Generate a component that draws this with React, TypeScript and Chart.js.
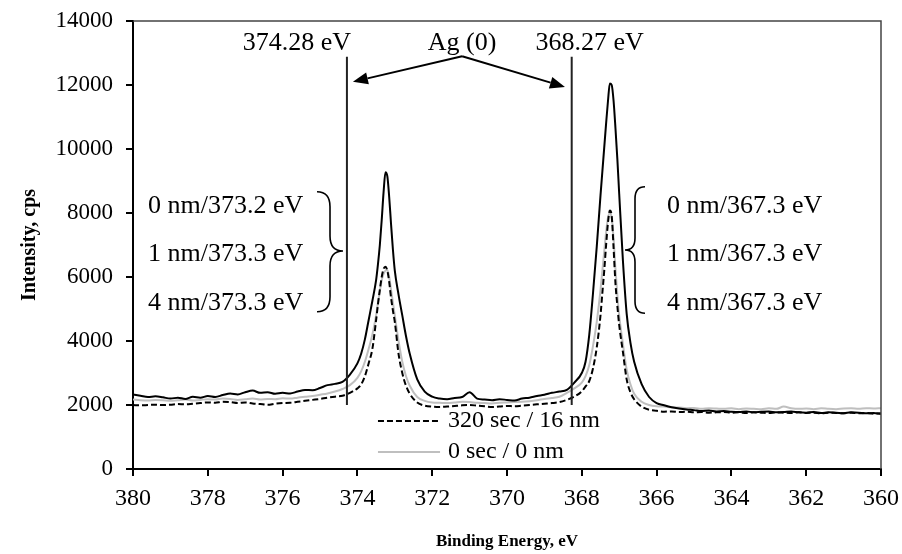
import React, { useEffect, useRef } from "react";
import { Chart, registerables } from "chart.js";
Chart.register(...registerables);

// Binding energy grid (eV)
const energies = [
  380.0, 379.8, 379.6, 379.4, 379.2, 379.0, 378.8, 378.6, 378.4, 378.2, 378.0, 377.8, 377.6, 377.4, 377.2, 377.0, 376.8, 376.6, 376.4, 376.2, 376.0, 375.8, 375.6, 375.4, 375.2, 375.0, 374.8, 374.6,
  374.4, 374.2, 374.0, 373.9, 373.8, 373.7, 373.6, 373.5, 373.45, 373.4, 373.35, 373.3, 373.25, 373.2, 373.15, 373.1, 373.05, 373.0, 372.9, 372.8, 372.7, 372.6, 372.4, 372.2, 372.0,
  371.8, 371.6, 371.4, 371.2, 371.0, 370.8, 370.6, 370.4, 370.2, 370.0, 369.8, 369.6, 369.4, 369.2, 369.0, 368.8, 368.6,
  368.4, 368.2, 368.0, 367.9, 367.8, 367.7, 367.6, 367.5, 367.45, 367.4, 367.35, 367.3, 367.25, 367.2, 367.15, 367.1, 367.05, 367.0, 366.9, 366.8, 366.7, 366.6, 366.4, 366.2, 366.0,
  365.8, 365.6, 365.4, 365.2, 365.0, 364.8, 364.6, 364.4, 364.2, 364.0, 363.8, 363.6, 363.4, 363.2, 363.0, 362.8, 362.6, 362.4, 362.2, 362.0, 361.8, 361.6, 361.4, 361.2, 361.0, 360.8, 360.6, 360.4, 360.2, 360.0,
];

// Solid black spectrum (cps)
const solidSeries = [
  2330, 2290, 2250, 2270, 2240, 2200, 2230, 2190, 2260, 2230, 2280, 2250, 2310, 2360, 2330, 2400, 2450, 2380, 2400, 2350, 2380, 2360, 2420, 2470, 2460, 2530, 2620, 2660,
  2720, 2950, 3300, 3600, 4050, 4650, 5250, 5900, 6400, 7000, 7780, 8650, 9270, 9150, 8500, 7650, 6850, 6200, 5450, 4800, 4150, 3600, 2800, 2420, 2260,
  2200, 2180, 2220, 2250, 2400, 2200, 2170, 2150, 2180, 2160, 2140, 2200, 2230, 2280, 2320, 2380, 2420,
  2470, 2700, 3000, 3350, 4200, 5500, 6950, 8550, 9300, 10050, 10800, 11500, 12050, 12000, 11500, 10650, 9700, 8600, 6500, 4850, 3950, 3350, 2650, 2250, 2060,
  1990, 1930, 1890, 1860, 1840, 1810, 1830, 1800, 1810, 1790, 1780, 1800, 1770, 1790, 1800, 1770, 1780, 1800, 1770, 1760, 1780, 1750, 1770, 1760, 1740, 1770, 1760, 1740, 1750, 1720,
];

// "320 sec / 16 nm" dashed spectrum (cps)
const dashedSeries = [
  2000, 1990, 2000, 2010, 2000, 2010, 2030, 2020, 2040, 2060, 2080, 2070, 2100, 2090, 2060, 2080, 2050, 2030, 2010, 2040, 2060, 2070, 2100, 2130, 2160, 2190, 2230, 2260,
  2290, 2380, 2520, 2640, 2900, 3300, 3750, 4650, 5150, 5600, 6000, 6250, 6320, 6200, 5850, 5350, 4950, 4600, 3600, 3000, 2600, 2350, 2080, 1980, 1950,
  1940, 1950, 1970, 1990, 2000, 1980, 1960, 1940, 1950, 1970, 1960, 1980, 2000, 2020, 2040, 2060, 2090,
  2160, 2260, 2430, 2580, 2750, 3150, 3800, 4800, 5500, 6200, 7000, 7700, 8080, 7900, 6900, 5800, 5100, 4500, 3650, 2800, 2400, 2180, 1950, 1850, 1820,
  1790, 1800, 1780, 1790, 1770, 1780, 1760, 1770, 1780, 1760, 1770, 1750, 1770, 1760, 1750, 1770, 1760, 1750, 1770, 1750, 1760, 1740, 1760, 1750, 1740, 1760, 1740, 1750, 1730, 1740,
];

// "0 sec / 0 nm" grey spectrum (cps)
const greySeries = [
  2170, 2150, 2140, 2160, 2150, 2130, 2150, 2170, 2140, 2160, 2180, 2170, 2200, 2190, 2160, 2180, 2200, 2170, 2190, 2180, 2210, 2200, 2230, 2260, 2280, 2320, 2360, 2420,
  2500, 2620, 2850, 3050, 3350, 3750, 4200, 4800, 5200, 5550, 5900, 6100, 6200, 6220, 6000, 5600, 5200, 4800, 4000, 3350, 2900, 2600, 2250, 2130, 2080,
  2070, 2060, 2080, 2100, 2090, 2070, 2060, 2050, 2070, 2080, 2090, 2100, 2120, 2150, 2190, 2220, 2260,
  2380, 2520, 2700, 2900, 3250, 3850, 4600, 5600, 6200, 6800, 7400, 7850, 8000, 7850, 7200, 6250, 5450, 4800, 3900, 3100, 2650, 2350, 2100, 2000, 1960,
  1950, 1930, 1920, 1900, 1910, 1880, 1900, 1890, 1880, 1900, 1870, 1890, 1880, 1870, 1900, 1880, 1950, 1900, 1880, 1890, 1870, 1900, 1880, 1870, 1890, 1900, 1880, 1900, 1890, 1900,
];

const seriesLabels = ["Ag 3d", "320 sec / 16 nm", "0 sec / 0 nm"];
const legendLabels = ["320 sec / 16 nm", "0 sec / 0 nm"];

// Reference lines (eV) and their labels
const refLines = [374.28, 368.27];
const refLineLabels = ["374.28 eV", "368.27 eV"];
const refLineRange = [2000, 12880];
const agLabel = "Ag (0)";
const agLabelPos = [371.2, 13300];
const arrowStart = [371.2, 12900];
const arrowEnds = [[374.12, 12100], [368.45, 11940]];

// Peak position groups
const leftGroupTexts = ["0 nm/373.2 eV", "1 nm/373.3 eV", "4 nm/373.3 eV"];
const rightGroupTexts = ["0 nm/367.3 eV", "1 nm/367.3 eV", "4 nm/367.3 eV"];
const groupTextY = [8200, 6700, 5170];
const leftGroupX = 379.6;
const rightGroupX = 365.72;
// brace: [xEnds, xTip, yTop, yMid, yBottom]
const leftBrace = [375.08, 374.385, 8666, 6812, 4916];
const rightBrace = [366.31, 366.845, 8822, 6844, 4866];

const legendPos = { x0: 373.45, x1: 371.79, textX: 371.58, y: [1500, 530] };

const SERIF = '"Liberation Serif", "Times New Roman", serif';

function drawArrow(ctx: CanvasRenderingContext2D, x1: number, y1: number, x2: number, y2: number) {
  const ang = Math.atan2(y2 - y1, x2 - x1);
  const hl = 15, hw = 6;
  const bx = x2 - hl * Math.cos(ang), by = y2 - hl * Math.sin(ang);
  ctx.beginPath();
  ctx.moveTo(x1, y1);
  ctx.lineTo(bx, by);
  ctx.stroke();
  ctx.beginPath();
  ctx.moveTo(x2, y2);
  ctx.lineTo(bx + hw * Math.sin(ang), by - hw * Math.cos(ang));
  ctx.lineTo(bx - hw * Math.sin(ang), by + hw * Math.cos(ang));
  ctx.closePath();
  ctx.fill();
}

function drawBrace(ctx: CanvasRenderingContext2D, x0: number, x1: number, yT: number, yM: number, yB: number) {
  const xm = (x0 + x1) / 2;
  const r = Math.abs(x1 - x0) / 2 + 2;
  ctx.beginPath();
  ctx.moveTo(x0, yT);
  ctx.quadraticCurveTo(xm, yT, xm, yT + r);
  ctx.lineTo(xm, yM - r);
  ctx.quadraticCurveTo(xm, yM, x1, yM);
  ctx.quadraticCurveTo(xm, yM, xm, yM + r);
  ctx.lineTo(xm, yB - r);
  ctx.quadraticCurveTo(xm, yB, x0, yB);
  ctx.stroke();
}

const annotationPlugin = {
  id: "annotations",
  afterDatasetsDraw(chart: any) {
    const { ctx, chartArea, scales } = chart;
    const px = (v: number) => scales.x.getPixelForValue(v);
    const py = (v: number) => scales.y.getPixelForValue(v);
    ctx.save();
    // plot frame (top & right)
    ctx.strokeStyle = "#444";
    ctx.lineWidth = 1.5;
    ctx.beginPath();
    ctx.moveTo(chartArea.left, chartArea.top);
    ctx.lineTo(chartArea.right, chartArea.top);
    ctx.lineTo(chartArea.right, chartArea.bottom);
    ctx.stroke();

    // reference lines
    ctx.strokeStyle = "#222";
    ctx.lineWidth = 2;
    refLines.forEach((e) => {
      ctx.beginPath();
      ctx.moveTo(px(e), py(refLineRange[0]));
      ctx.lineTo(px(e), py(refLineRange[1]));
      ctx.stroke();
    });

    ctx.fillStyle = "#000";
    ctx.font = `26px ${SERIF}`;
    ctx.textAlign = "center";
    ctx.textBaseline = "middle";
    refLines.forEach((e, i) => {
      const off = i === 0 ? -50 : 18;
      ctx.fillText(refLineLabels[i], px(e) + off, py(agLabelPos[1]));
    });
    ctx.fillText(agLabel, px(agLabelPos[0]), py(agLabelPos[1]));

    // arrows
    ctx.strokeStyle = "#000";
    ctx.lineWidth = 2;
    arrowEnds.forEach(([ex, ey]) => {
      drawArrow(ctx, px(arrowStart[0]), py(arrowStart[1]), px(ex), py(ey));
    });

    // braces
    ctx.lineWidth = 1.6;
    drawBrace(ctx, px(leftBrace[0]), px(leftBrace[1]), py(leftBrace[2]), py(leftBrace[3]), py(leftBrace[4]));
    drawBrace(ctx, px(rightBrace[0]), px(rightBrace[1]), py(rightBrace[2]), py(rightBrace[3]), py(rightBrace[4]));

    // group texts
    ctx.textAlign = "left";
    leftGroupTexts.forEach((t, i) => ctx.fillText(t, px(leftGroupX), py(groupTextY[i])));
    rightGroupTexts.forEach((t, i) => ctx.fillText(t, px(rightGroupX), py(groupTextY[i])));

    // legend
    ctx.font = `24px ${SERIF}`;
    const ds = chart.data.datasets;
    legendLabels.forEach((lab, i) => {
      const d = ds.find((q: any) => q.label === lab);
      const y = py(legendPos.y[i]);
      ctx.strokeStyle = d.borderColor;
      ctx.lineWidth = d.borderWidth;
      ctx.setLineDash(d.borderDash || []);
      ctx.beginPath();
      ctx.moveTo(px(legendPos.x0), y);
      ctx.lineTo(px(legendPos.x1), y);
      ctx.stroke();
      ctx.setLineDash([]);
      ctx.fillStyle = "#000";
      ctx.fillText(lab, px(legendPos.textX), y);
    });
    ctx.restore();
  },
};

export default function App() {
  const ref = useRef<HTMLCanvasElement | null>(null);
  useEffect(() => {
    document.body.style.margin = "0";
    const canvas = ref.current!;
    const mk = (vals: number[]) => energies.map((e, i) => ({ x: e, y: vals[i] }));
    const chart = new Chart(canvas, {
      type: "line",
      data: {
        datasets: [
          { label: seriesLabels[0], data: mk(solidSeries), borderColor: "#000", borderWidth: 2, pointRadius: 0, cubicInterpolationMode: "monotone" },
          { label: seriesLabels[1], data: mk(dashedSeries), borderColor: "#000", borderWidth: 2, borderDash: [6, 3], pointRadius: 0, cubicInterpolationMode: "monotone" },
          { label: seriesLabels[2], data: mk(greySeries), borderColor: "#bfbfbf", borderWidth: 2, pointRadius: 0, cubicInterpolationMode: "monotone" },
        ],
      },
      options: {
        animation: false,
        responsive: false,
        maintainAspectRatio: false,
        layout: { padding: { top: 21, right: 21, left: 0, bottom: 0 } },
        plugins: { legend: { display: false }, tooltip: { enabled: false } },
        scales: {
          x: {
            type: "linear",
            reverse: true,
            min: 360,
            max: 380,
            afterFit: (s: any) => { s.height = 85; s.paddingLeft = 0; s.paddingRight = 0; },
            ticks: { stepSize: 2, color: "#000", font: { family: SERIF, size: 24 }, padding: 8, maxRotation: 0, callback: (v: any) => String(v) },
            grid: { drawOnChartArea: false, drawTicks: true, tickLength: 7, color: "#000", lineWidth: 2 },
            border: { display: true, color: "#000", width: 2 },
            title: { display: true, text: "Binding Energy, eV", color: "#000", font: { family: SERIF, size: 17, weight: "bold" }, padding: { top: 0, bottom: 2 } },
          },
          y: {
            min: 0,
            max: 14000,
            afterFit: (s: any) => { s.width = 133; s.paddingTop = 0; s.paddingBottom = 0; },
            ticks: { stepSize: 2000, color: "#000", font: { family: SERIF, size: 23 }, padding: 13, callback: (v: any) => String(v) },
            grid: { drawOnChartArea: false, drawTicks: true, tickLength: 7, color: "#000", lineWidth: 2 },
            border: { display: true, color: "#000", width: 2 },
            title: { display: true, text: "Intensity, cps", color: "#000", font: { family: SERIF, size: 20, weight: "bold" }, padding: { top: 18, bottom: 0 } },
          },
        },
      },
      plugins: [annotationPlugin],
    });
    return () => chart.destroy();
  }, []);
  return <canvas ref={ref} width={902} height={554} style={{ display: "block" }} />;
}
